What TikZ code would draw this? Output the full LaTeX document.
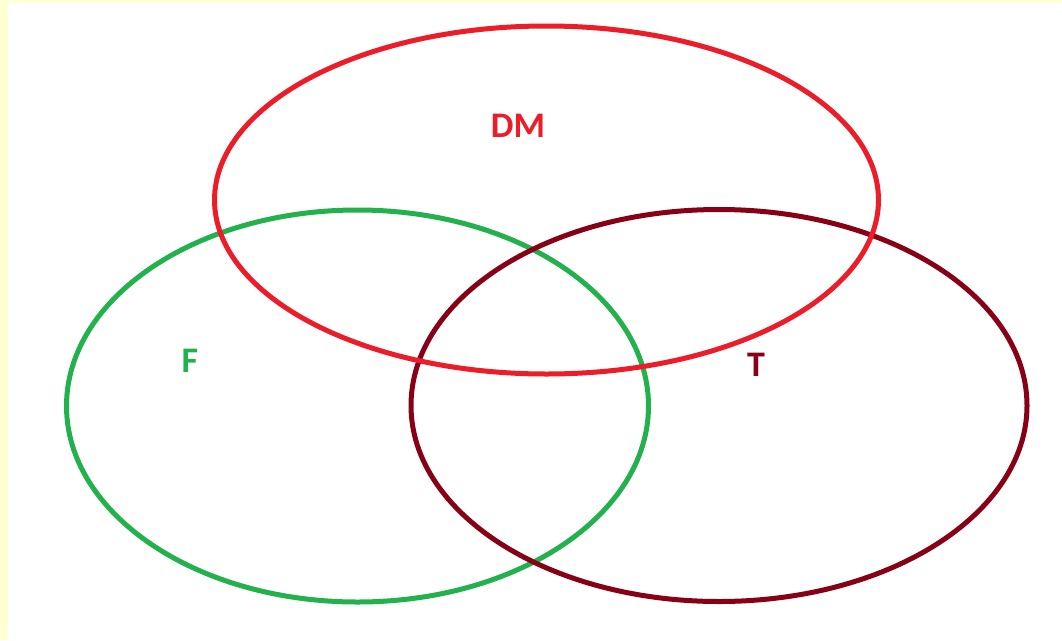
\documentclass[tikz,border=0pt]{standalone}
\usepackage{fontspec}
\setmainfont{Carlito}
\definecolor{bgyellow}{HTML}{FFFFD4}
\definecolor{vred}{HTML}{EC1C28}
\definecolor{vgreen}{HTML}{22B14C}
\definecolor{vdark}{HTML}{880015}
\begin{document}
\begin{tikzpicture}[x=1pt,y=-1pt,
  setline/.style={line width=5pt},
  setlabel/.style={font=\bfseries\fontsize{36}{36}\selectfont, inner sep=0pt}]
\useasboundingbox (0,0) rectangle (1062,640);
\fill[bgyellow] (0,0) rectangle (1062,640);
\fill[white] (8,3) rectangle (1062,640);
\draw[setline, vgreen] (357.5,406) ellipse [x radius=291, y radius=196];
\draw[setline, vdark] (719,405.5) ellipse [x radius=308, y radius=196];
\draw[setline, vred] (546.5,200) ellipse [x radius=332, y radius=174];
\node[setlabel, text=vred] (dm) at (518,126) {DM};
\node[setlabel, text=vgreen] (f) at (190,361) {F};
\node[setlabel, text=vdark] (t) at (756,365) {T};
\end{tikzpicture}
\end{document}
